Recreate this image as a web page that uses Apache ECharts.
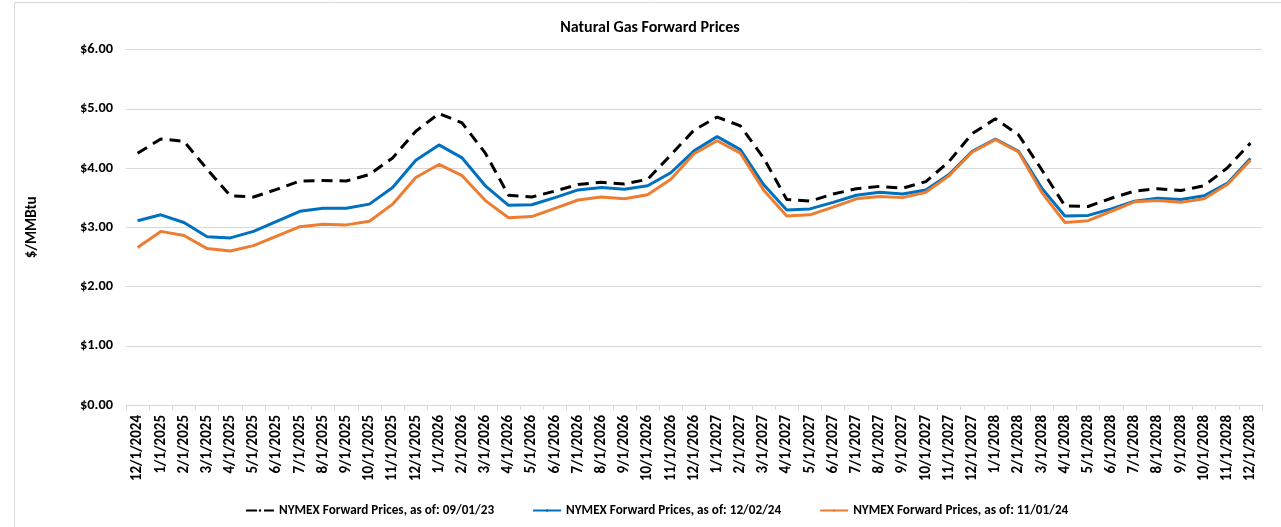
<!DOCTYPE html>
<html>
<head>
<meta charset="utf-8">
<script src="https://cdn.jsdelivr.net/npm/echarts@6/dist/echarts.min.js"></script>
<style>
  html, body { margin: 0; padding: 0; background: #fff; }
  #main { width: 1281px; height: 527px; }
</style>
</head>
<body>
<div id="main"></div>
<script>
// 月份标签
var months = [
  '12/1/2024', '1/1/2025', '2/1/2025', '3/1/2025', '4/1/2025', '5/1/2025', '6/1/2025',
  '7/1/2025', '8/1/2025', '9/1/2025', '10/1/2025', '11/1/2025', '12/1/2025',
  '1/1/2026', '2/1/2026', '3/1/2026', '4/1/2026', '5/1/2026', '6/1/2026',
  '7/1/2026', '8/1/2026', '9/1/2026', '10/1/2026', '11/1/2026', '12/1/2026',
  '1/1/2027', '2/1/2027', '3/1/2027', '4/1/2027', '5/1/2027', '6/1/2027',
  '7/1/2027', '8/1/2027', '9/1/2027', '10/1/2027', '11/1/2027', '12/1/2027',
  '1/1/2028', '2/1/2028', '3/1/2028', '4/1/2028', '5/1/2028', '6/1/2028',
  '7/1/2028', '8/1/2028', '9/1/2028', '10/1/2028', '11/1/2028', '12/1/2028'
];

// NYMEX 09/01/23
var prices090123 = [
  4.25, 4.49, 4.45, 3.98, 3.53, 3.51, 3.64, 3.78, 3.79, 3.78, 3.89, 4.17, 4.62,
  4.92, 4.76, 4.25, 3.54, 3.51, 3.61, 3.72, 3.76, 3.73, 3.81, 4.22, 4.64,
  4.86, 4.71, 4.17, 3.47, 3.44, 3.56, 3.65, 3.69, 3.66, 3.77, 4.11, 4.58,
  4.83, 4.56, 3.97, 3.36, 3.35, 3.49, 3.61, 3.65, 3.62, 3.70, 4.00, 4.42
];

// NYMEX 12/02/24
var prices120224 = [
  3.11, 3.21, 3.08, 2.84, 2.82, 2.93, 3.10, 3.27, 3.32, 3.32, 3.39, 3.67, 4.13,
  4.39, 4.17, 3.70, 3.37, 3.38, 3.50, 3.63, 3.67, 3.64, 3.70, 3.92, 4.29,
  4.53, 4.31, 3.72, 3.29, 3.31, 3.42, 3.54, 3.59, 3.56, 3.63, 3.89, 4.28,
  4.49, 4.28, 3.66, 3.19, 3.20, 3.31, 3.44, 3.49, 3.47, 3.53, 3.74, 4.16
];

// NYMEX 11/01/24
var prices110124 = [
  2.66, 2.93, 2.86, 2.64, 2.60, 2.69, 2.85, 3.01, 3.05, 3.04, 3.10, 3.39, 3.84,
  4.06, 3.87, 3.45, 3.16, 3.18, 3.32, 3.46, 3.51, 3.48, 3.55, 3.81, 4.24,
  4.46, 4.25, 3.63, 3.19, 3.21, 3.34, 3.48, 3.52, 3.50, 3.59, 3.87, 4.27,
  4.48, 4.27, 3.59, 3.08, 3.11, 3.27, 3.43, 3.45, 3.42, 3.48, 3.72, 4.13
];

var seriesNames = [
  'NYMEX Forward Prices, as of: 09/01/23',
  'NYMEX Forward Prices, as of: 12/02/24',
  'NYMEX Forward Prices, as of: 11/01/24'
];

var font = 'Carlito, "Open Sans", sans-serif';

var myChart = echarts.init(document.getElementById('main'));
var option = {
  backgroundColor: '#fff',
  animation: false,
  graphic: [{
    type: 'rect',
    shape: { x: 14.5, y: 2.5, width: 1300, height: 600 },
    style: { fill: 'none', stroke: '#d9d9d9', lineWidth: 1 },
    silent: true
  }],
  title: {
    text: 'Natural Gas Forward Prices',
    left: 645,
    textAlign: 'center',
    top: 15,
    textStyle: { fontFamily: font, fontSize: 16, fontWeight: 'bold', color: '#000' }
  },
  grid: { left: 126, right: 19, top: 49.5, bottom: 122 },
  legend: {
    top: 499,
    left: 240,
    itemWidth: 28,
    itemHeight: 3,
    itemGap: 38,
    textStyle: { fontFamily: font, fontSize: 13.2, color: '#000', fontWeight: 'bold' },
    data: seriesNames
  },
  xAxis: {
    type: 'category',
    data: months,
    boundaryGap: true,
    axisLine: { lineStyle: { color: '#d9d9d9' } },
    axisTick: { show: true, lineStyle: { color: '#d9d9d9' }, length: 5 },
    axisLabel: {
      interval: 0,
      rotate: 90,
      margin: 10,
      fontFamily: font,
      fontSize: 15,
      fontWeight: 'bold',
      color: '#000'
    }
  },
  yAxis: {
    type: 'value',
    min: 0,
    max: 6,
    interval: 1,
    name: '$/MMBtu',
    nameLocation: 'middle',
    nameGap: 86,
    nameTextStyle: { fontFamily: font, fontSize: 15, fontWeight: 'bold', color: '#000' },
    axisLine: { show: false },
    axisTick: { show: false },
    splitLine: { lineStyle: { color: '#d9d9d9' } },
    axisLabel: {
      margin: 13,
      fontFamily: font,
      fontSize: 14.4,
      fontWeight: 'bold',
      color: '#000',
      formatter: function (v) { return '$' + v.toFixed(2); }
    }
  },
  series: [
    {
      name: seriesNames[0],
      type: 'line',
      data: prices090123,
      symbol: 'none',
      itemStyle: { color: '#000' },
      lineStyle: { color: '#000', width: 3, type: [11, 7] }
    },
    {
      name: seriesNames[1],
      type: 'line',
      data: prices120224,
      symbol: 'none',
      itemStyle: { color: '#0070c0' },
      lineStyle: { color: '#0070c0', width: 3 }
    },
    {
      name: seriesNames[2],
      type: 'line',
      data: prices110124,
      symbol: 'none',
      itemStyle: { color: '#ed7d31' },
      lineStyle: { color: '#ed7d31', width: 3 }
    }
  ]
};
myChart.setOption(option);
</script>
</body>
</html>
